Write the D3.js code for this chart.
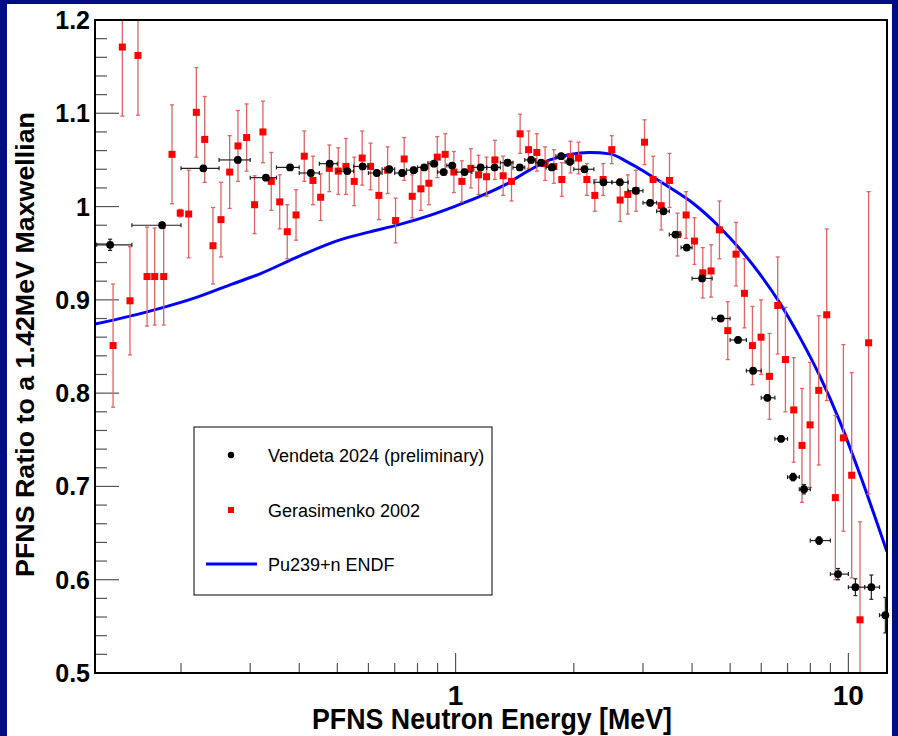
<!DOCTYPE html>
<html>
<head>
<meta charset="utf-8">
<script src="https://cdn.jsdelivr.net/npm/d3@7"></script>
<style>
  html, body { margin: 0; padding: 0; background: #000d84; }
  svg { display: block; }
</style>
</head>
<body>
<svg id="chart" width="898" height="736"></svg>
<script>
// Vendeta 2024 (preliminary): ratio to a 1.42 MeV Maxwellian, with energy bins
const vendetaEnergy = [0.132,0.179,0.228,0.279,0.329,0.379,0.428,0.478,0.530,0.580,0.630,0.678,0.731,0.782,0.832,0.881,0.932,0.980,1.054,1.158,1.257,1.356,1.457,1.557,1.651,1.758,1.857,1.954,2.129,2.38,2.62,2.876,3.128,3.383,3.629,3.877,4.242,4.73,5.237,5.72,6.22,6.74,7.23,7.71,8.42,9.41,10.42,11.44,12.42];
const vendetaRatio = [0.959,0.980,1.041,1.050,1.031,1.042,1.036,1.046,1.038,1.043,1.036,1.040,1.036,1.039,1.042,1.046,1.037,1.044,1.037,1.042,1.042,1.047,1.042,1.050,1.047,1.042,1.054,1.048,1.040,1.026,1.026,1.017,1.004,0.995,0.970,0.956,0.923,0.880,0.857,0.824,0.795,0.751,0.710,0.697,0.642,0.606,0.592,0.592,0.562];
const vendetaRatioErr = [0.006,0.003,0.003,0.003,0.003,0.003,0.003,0.003,0.003,0.003,0.003,0.003,0.003,0.003,0.003,0.003,0.003,0.003,0.003,0.003,0.003,0.003,0.003,0.003,0.003,0.003,0.003,0.003,0.003,0.003,0.003,0.003,0.003,0.003,0.003,0.003,0.003,0.003,0.003,0.003,0.003,0.003,0.004,0.005,0.004,0.006,0.009,0.013,0.019];
const vendetaBinLow = [0.122,0.15,0.20,0.25,0.30,0.35,0.40,0.45,0.50,0.55,0.60,0.65,0.70,0.75,0.80,0.85,0.90,0.95,1.0,1.1,1.2,1.3,1.4,1.5,1.6,1.7,1.8,1.9,2.0,2.25,2.5,2.75,3.0,3.25,3.5,3.75,4.0,4.5,5.0,5.5,6.0,6.5,7.0,7.5,8.0,9.0,10.0,11.0,12.0];
const vendetaBinHigh = [0.15,0.20,0.25,0.30,0.35,0.40,0.45,0.50,0.55,0.60,0.65,0.70,0.75,0.80,0.85,0.90,0.95,1.0,1.1,1.2,1.3,1.4,1.5,1.6,1.7,1.8,1.9,2.0,2.25,2.5,2.75,3.0,3.25,3.5,3.75,4.0,4.5,5.0,5.5,6.0,6.5,7.0,7.5,8.0,9.0,10.0,11.0,12.0,13.0];

// Gerasimenko 2002
const gerasimenkoEnergy = [0.1343,0.1418,0.1483,0.1554,0.1639,0.1714,0.1807,0.1897,0.1991,0.2092,0.2188,0.2298,0.2412,0.2528,0.2660,0.2793,0.2938,0.3078,0.3233,0.3395,0.3567,0.3728,0.3925,0.4119,0.4334,0.4534,0.4771,0.5027,0.5258,0.5521,0.5784,0.6075,0.6379,0.6714,0.7035,0.7399,0.7756,0.8161,0.8552,0.8982,0.9408,0.9901,1.0375,1.0937,1.1443,1.199,1.259,1.3215,1.388,1.460,1.534,1.610,1.690,1.779,1.864,1.961,2.056,2.159,2.262,2.375,2.498,2.624,2.744,2.880,3.027,3.183,3.337,3.504,3.672,3.863,4.056,4.259,4.471,4.696,4.931,5.176,5.437,5.698,5.993,6.295,6.608,6.914,7.258,7.619,7.987,8.404,8.807,9.265,9.712,10.196,10.705,11.26];
const gerasimenkoRatio = [0.851,1.171,0.899,1.162,0.925,0.925,0.925,1.056,0.993,0.992,1.101,1.072,0.958,0.986,1.037,1.065,1.074,1.002,1.080,1.027,1.005,0.973,0.991,1.054,1.028,1.010,1.041,1.038,1.043,1.027,1.052,1.043,1.012,1.039,0.985,1.051,1.011,1.019,1.025,1.053,1.056,1.037,1.027,1.041,1.034,1.032,1.050,1.033,1.027,1.078,1.061,1.058,1.046,1.043,1.029,1.053,1.052,1.029,1.012,1.029,1.061,1.007,1.013,1.017,1.069,1.029,1.001,1.028,0.970,0.991,0.963,0.929,0.931,0.975,0.867,0.949,0.907,0.851,0.860,0.818,0.894,0.836,0.782,0.744,0.766,0.803,0.884,0.688,0.752,0.712,0.557,0.854];
const gerasimenkoErr = [0.066,0.074,0.058,0.064,0.053,0.052,0.052,0.053,0.004,0.047,0.048,0.046,0.041,0.040,0.039,0.038,0.036,0.031,0.033,0.031,0.029,0.029,0.027,0.027,0.026,0.025,0.025,0.025,0.030,0.026,0.029,0.025,0.026,0.025,0.024,0.023,0.023,0.023,0.023,0.022,0.022,0.022,0.022,0.021,0.021,0.021,0.021,0.021,0.021,0.021,0.020,0.020,0.018,0.018,0.018,0.017,0.017,0.017,0.017,0.017,0.015,0.023,0.021,0.022,0.024,0.025,0.026,0.029,0.023,0.025,0.025,0.027,0.028,0.031,0.031,0.034,0.037,0.042,0.040,0.046,0.052,0.056,0.056,0.061,0.067,0.080,0.092,0.088,0.100,0.110,0.105,0.162];

// Pu239+n ENDF evaluation
const endfEnergy = [0.1208,0.1483,0.1768,0.2171,0.2665,0.3177,0.4016,0.5077,0.6052,0.7214,0.8602,0.9959,1.153,1.335,1.546,1.738,1.954,2.196,2.470,2.729,3.068,3.510,4.023,4.704,5.289,5.947,6.687,7.512,8.453,9.497,10.685,12.54];
const endfRatio = [0.8740,0.8826,0.8909,0.9021,0.9161,0.9279,0.9472,0.9643,0.9729,0.9809,0.9906,1.0003,1.0109,1.0233,1.0393,1.0501,1.0559,1.0579,1.0565,1.0482,1.0358,1.0204,1.0036,0.9779,0.9547,0.9279,0.8968,0.8603,0.8185,0.7703,0.7135,0.6299];

// Axis labels
const yTickValues = [0.5,0.6,0.7,0.8,0.9,1.0,1.1,1.2];
const yTickLabels = ["0.5","0.6","0.7","0.8","0.9","1","1.1","1.2"];
const xLabelValues = [1,10];
const xTickLabels = ["1","10"];
const legendLabels = ["Vendeta 2024 (preliminary)","Gerasimenko 2002","Pu239+n ENDF"];

const svg = d3.select("#chart");
const frame = { left: 95, right: 887, top: 20, bottom: 673 };

const x = d3.scaleLog().domain([0.1208, 12.54]).range([frame.left, frame.right]);
const y = d3.scaleLinear().domain([0.5, 1.2]).range([frame.bottom, frame.top]);

// canvas: navy border around a white page
svg.append("rect").attr("width", 898).attr("height", 736).attr("fill", "#000d84");
svg.append("rect").attr("x", 7).attr("y", 4).attr("width", 885).attr("height", 732).attr("fill", "#ffffff");

svg.append("defs").append("clipPath").attr("id", "plotClip")
  .append("rect")
  .attr("x", frame.left).attr("y", frame.top)
  .attr("width", frame.right - frame.left).attr("height", frame.bottom - frame.top);

// y ticks (inside the frame, on the left)
const yMinor = d3.range(0, 36).map(i => 0.5 + i * 0.02);
const tickG = svg.append("g");
tickG.selectAll("line.ymin").data(yMinor).join("line")
  .attr("x1", frame.left).attr("x2", d => frame.left + (Math.abs(d * 10 - Math.round(d * 10)) < 1e-6 ? 24 : 12))
  .attr("y1", d => y(d)).attr("y2", d => y(d))
  .attr("stroke", "#555").attr("stroke-width", 1.2);

// x ticks (inside the frame, on the bottom)
tickG.selectAll("line.xt").data(x.ticks()).join("line")
  .attr("x1", d => x(d)).attr("x2", d => x(d))
  .attr("y1", frame.bottom)
  .attr("y2", d => frame.bottom - (Math.abs(Math.log10(d) - Math.round(Math.log10(d))) < 1e-6 ? 20 : 10))
  .attr("stroke", "#555").attr("stroke-width", 1.2);

const plot = svg.append("g");

// ENDF curve
plot.append("path")
  .attr("clip-path", "url(#plotClip)")
  .datum(endfEnergy.map((e, i) => [e, endfRatio[i]]))
  .attr("fill", "none").attr("stroke", "#0000ff").attr("stroke-width", 3)
  .attr("stroke-linejoin", "round")
  .attr("d", d3.line().x(d => x(d[0])).y(d => y(d[1])).curve(d3.curveMonotoneX));

// Gerasimenko error bars and markers
const ger = gerasimenkoEnergy.map((e, i) => ({ e, v: gerasimenkoRatio[i], err: gerasimenkoErr[i] }));
const gerBars = plot.append("g").attr("clip-path", "url(#plotClip)")
  .attr("stroke", "#e06464").attr("stroke-width", 1.3);
gerBars.selectAll("line.v").data(ger).join("line")
  .attr("x1", d => x(d.e)).attr("x2", d => x(d.e))
  .attr("y1", d => y(d.v - d.err)).attr("y2", d => y(d.v + d.err));
gerBars.selectAll("line.cl").data(ger).join("line")
  .attr("x1", d => x(d.e) - 2).attr("x2", d => x(d.e) + 2)
  .attr("y1", d => y(d.v - d.err)).attr("y2", d => y(d.v - d.err));
gerBars.selectAll("line.ch").data(ger).join("line")
  .attr("x1", d => x(d.e) - 2).attr("x2", d => x(d.e) + 2)
  .attr("y1", d => y(d.v + d.err)).attr("y2", d => y(d.v + d.err));
plot.append("g").selectAll("rect").data(ger).join("rect")
  .attr("x", d => x(d.e) - 3.5).attr("y", d => y(d.v) - 3.5)
  .attr("width", 7).attr("height", 7).attr("fill", "#ff0000");

// Vendeta error bars and markers
const ven = vendetaEnergy.map((e, i) => ({
  e, v: vendetaRatio[i], err: vendetaRatioErr[i], lo: vendetaBinLow[i], hi: vendetaBinHigh[i]
}));
const venBars = plot.append("g").attr("clip-path", "url(#plotClip)")
  .attr("stroke", "#222").attr("stroke-width", 1.2);
venBars.selectAll("line.h").data(ven).join("line")
  .attr("x1", d => x(d.lo)).attr("x2", d => x(d.hi))
  .attr("y1", d => y(d.v)).attr("y2", d => y(d.v));
venBars.selectAll("line.hl").data(ven).join("line")
  .attr("x1", d => x(d.lo)).attr("x2", d => x(d.lo))
  .attr("y1", d => y(d.v) - 2).attr("y2", d => y(d.v) + 2);
venBars.selectAll("line.hh").data(ven).join("line")
  .attr("x1", d => x(d.hi)).attr("x2", d => x(d.hi))
  .attr("y1", d => y(d.v) - 2).attr("y2", d => y(d.v) + 2);
venBars.selectAll("line.v").data(ven).join("line")
  .attr("x1", d => x(d.e)).attr("x2", d => x(d.e))
  .attr("y1", d => y(d.v - d.err)).attr("y2", d => y(d.v + d.err));
venBars.selectAll("line.vl").data(ven).join("line")
  .attr("x1", d => x(d.e) - 2).attr("x2", d => x(d.e) + 2)
  .attr("y1", d => y(d.v - d.err)).attr("y2", d => y(d.v - d.err));
venBars.selectAll("line.vh").data(ven).join("line")
  .attr("x1", d => x(d.e) - 2).attr("x2", d => x(d.e) + 2)
  .attr("y1", d => y(d.v + d.err)).attr("y2", d => y(d.v + d.err));
plot.append("g").selectAll("circle").data(ven).join("circle")
  .attr("cx", d => x(d.e)).attr("cy", d => y(d.v)).attr("r", 3.9).attr("fill", "#000");

// frame
svg.append("rect")
  .attr("x", frame.left).attr("y", frame.top)
  .attr("width", frame.right - frame.left).attr("height", frame.bottom - frame.top)
  .attr("fill", "none").attr("stroke", "#000").attr("stroke-width", 2);

// y tick labels
svg.append("g").selectAll("text").data(yTickValues).join("text")
  .attr("x", 90).attr("y", d => y(d) + 9)
  .attr("text-anchor", "end")
  .attr("font-family", "'Liberation Sans', Arial, Helvetica, sans-serif")
  .attr("font-weight", "bold").attr("font-size", 25).attr("fill", "#000")
  .text((d, i) => yTickLabels[i]);

// x tick labels
svg.append("g").selectAll("text").data(xLabelValues).join("text")
  .attr("x", d => x(d)).attr("y", 705)
  .attr("text-anchor", "middle")
  .attr("font-family", "'Liberation Sans', Arial, Helvetica, sans-serif")
  .attr("font-weight", "bold").attr("font-size", 28).attr("fill", "#000")
  .text((d, i) => xTickLabels[i]);

// axis titles
svg.append("text")
  .attr("x", 492).attr("y", 729)
  .attr("text-anchor", "middle")
  .attr("textLength", 360).attr("lengthAdjust", "spacingAndGlyphs")
  .attr("font-family", "'Liberation Sans', Arial, Helvetica, sans-serif")
  .attr("font-weight", "bold").attr("font-size", 29).attr("fill", "#000")
  .text("PFNS Neutron Energy [MeV]");

svg.append("text")
  .attr("transform", "translate(34,344.5) rotate(-90)")
  .attr("text-anchor", "middle")
  .attr("textLength", 465).attr("lengthAdjust", "spacingAndGlyphs")
  .attr("font-family", "'Liberation Sans', Arial, Helvetica, sans-serif")
  .attr("font-weight", "bold").attr("font-size", 26).attr("fill", "#000")
  .text("PFNS Ratio to a 1.42MeV Maxwellian");

// legend
const legend = svg.append("g");
legend.append("rect")
  .attr("x", 194).attr("y", 427).attr("width", 298).attr("height", 168)
  .attr("fill", "#fff").attr("stroke", "#000").attr("stroke-width", 1);
const rowY = [455, 510, 564];
legend.append("circle").attr("cx", 231).attr("cy", rowY[0]).attr("r", 3.2).attr("fill", "#000");
legend.append("rect").attr("x", 228).attr("y", rowY[1] - 3).attr("width", 6).attr("height", 6).attr("fill", "#ff0000");
legend.append("line").attr("x1", 206).attr("x2", 257).attr("y1", rowY[2]).attr("y2", rowY[2])
  .attr("stroke", "#0000ff").attr("stroke-width", 3);
legend.selectAll("text").data(legendLabels).join("text")
  .attr("x", 268).attr("y", (d, i) => rowY[i] + 6.5)
  .attr("font-family", "'Liberation Sans', Arial, Helvetica, sans-serif")
  .attr("font-size", 18).attr("fill", "#000")
  .text(d => d);
</script>
</body>
</html>
